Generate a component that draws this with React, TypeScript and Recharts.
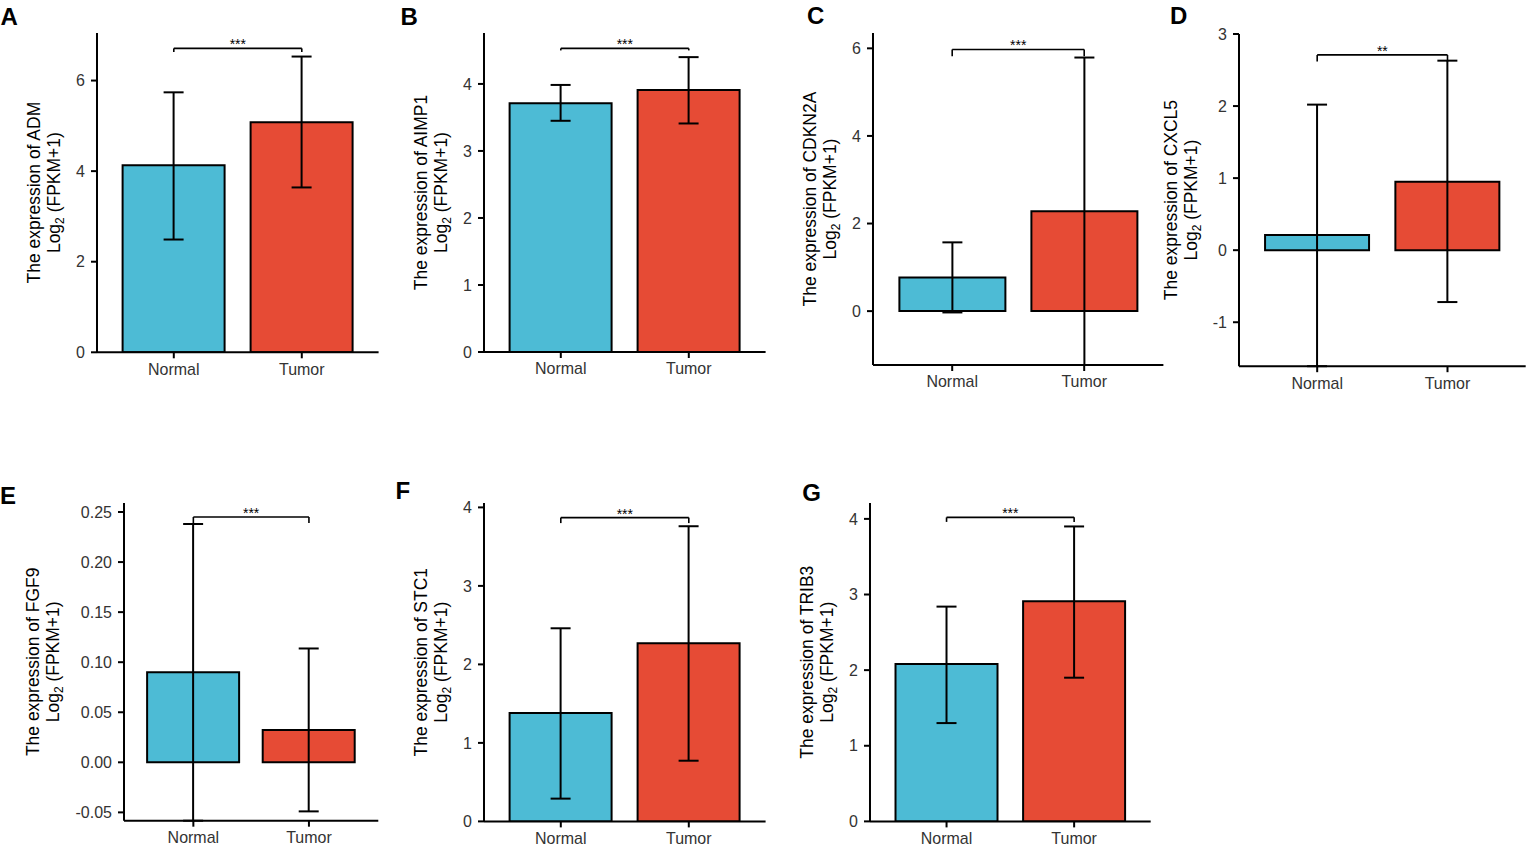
import React from "react";
import { Bar, BarChart, Cell, ErrorBar, ReferenceLine, XAxis, YAxis } from "recharts";

const FONT = '"Liberation Sans", Arial, Helvetica, sans-serif';
const FILLS = ["#4DBBD5", "#E64B35"];

// values (Log2(FPKM+1))
const groups = ["Normal", "Tumor"];
const genes = ["ADM", "AIMP1", "CDKN2A", "CXCL5", "FGF9", "STC1", "TRIB3"];
const meanNormal = [4.13, 3.71, 0.77, 0.21, 0.09, 1.38, 2.08];
const meanTumor = [5.08, 3.91, 2.28, 0.95, 0.0324, 2.27, 2.91];
const lowNormal = [2.49, 3.45, -0.03, -1.61, -0.0583, 0.29, 1.3];
const highNormal = [5.74, 3.985, 1.57, 2.02, 0.238, 2.46, 2.84];
const lowTumor = [3.64, 3.41, -1.23, -0.72, -0.049, 0.773, 1.9];
const highTumor = [6.53, 4.4, 5.79, 2.63, 0.1137, 3.76, 3.9];
const bracketTop = [6.71, 4.53, 5.975, 2.71, 0.245, 3.87, 4.02];
const bracketEnd = [6.63, 4.5, 5.82, 2.62, 0.239, 3.8, 3.96];
const signif = ["***", "***", "***", "**", "***", "***", "***"];
const yDomains = [
  [0, 7.05],
  [0, 4.76],
  [-1.23, 6.35],
  [-1.61, 3],
  [-0.0583, 0.259],
  [0, 4.056],
  [0, 4.21],
];
const yTicks = [
  [0, 2, 4, 6],
  [0, 1, 2, 3, 4],
  [0, 2, 4, 6],
  [-1, 0, 1, 2, 3],
  [-0.05, 0, 0.05, 0.1, 0.15, 0.2, 0.25],
  [0, 1, 2, 3, 4],
  [0, 1, 2, 3, 4],
];
const tickDecimals = [0, 0, 0, 0, 2, 0, 0];

// plot rectangles on the page
const layout = [
  { letter: "A", lx: 0.5, ly: 4.5, left: 96.7, top: 33, width: 281.6, bottom: 352.3, shift: 0 },
  { letter: "B", lx: 400.5, ly: 4.5, left: 483.7, top: 33.3, width: 281.6, bottom: 352.3, shift: 0 },
  { letter: "C", lx: 807, ly: 4, left: 873.3, top: 33, width: 290.4, bottom: 365, shift: 0 },
  { letter: "D", lx: 1170, ly: 4, left: 1239.3, top: 33.5, width: 286.7, bottom: 365.7, shift: -5 },
  { letter: "E", lx: 0, ly: 483.5, left: 124.3, top: 503.3, width: 254.3, bottom: 821, shift: -28 },
  { letter: "F", lx: 395.5, ly: 479, left: 483.7, top: 503.3, width: 281.6, bottom: 821.7, shift: 0 },
  { letter: "G", lx: 802.3, ly: 480.5, left: 870.3, top: 503.3, width: 280.7, bottom: 821.7, shift: 0 },
];

function buildRows(i: number) {
  return groups.map((g, j) => {
    const mean = j === 0 ? meanNormal[i] : meanTumor[i];
    const low = j === 0 ? lowNormal[i] : lowTumor[i];
    const high = j === 0 ? highNormal[i] : highTumor[i];
    return { group: g, mean, err: [mean - low, high - mean] };
  });
}

function YTitle(props: any) {
  const { viewBox, gene, shift } = props;
  const edge = viewBox.x + viewBox.width;
  const cy = viewBox.y + viewBox.height / 2;
  const x1 = edge - 57 + shift;
  const x2 = edge - 37 + shift;
  return (
    <g fontFamily={FONT} fontSize={17.5} fill="#000">
      <text transform={`translate(${x1},${cy}) rotate(-90)`} textAnchor="middle">
        The expression of {gene}
      </text>
      <text transform={`translate(${x2},${cy}) rotate(-90)`} textAnchor="middle">
        Log
        <tspan dy={4} fontSize={12}>
          2
        </tspan>
        <tspan dy={-4}> (FPKM+1)</tspan>
      </text>
    </g>
  );
}

const axisStroke = { stroke: "#000", strokeWidth: 2 };
const tickStyle = { fill: "#333", fontSize: 16, fontFamily: FONT };

function Panel({ i }: { i: number }) {
  const box = layout[i];
  const padTop = 25;
  const axisW = 110;
  const xAxisH = 45;
  const padRight = 1;
  const band = box.width / 2.2;
  const rows = buildRows(i);
  return (
    <div style={{ position: "absolute", left: box.left - axisW, top: box.top - padTop }}>
      <BarChart
        width={box.width + axisW + padRight}
        height={box.bottom - box.top + padTop + xAxisH}
        data={rows}
        margin={{ top: padTop, right: padRight, left: 0, bottom: 0 }}
        barCategoryGap="10%"
      >
        <XAxis
          dataKey="group"
          height={xAxisH}
          padding={{ left: band * 0.1, right: band * 0.1 }}
          axisLine={axisStroke}
          tickLine={axisStroke}
          tickSize={6}
          tickMargin={5}
          tick={tickStyle}
        />
        <YAxis
          type="number"
          width={axisW}
          domain={yDomains[i]}
          ticks={yTicks[i]}
          allowDataOverflow
          interval={0}
          axisLine={axisStroke}
          tickLine={axisStroke}
          tickSize={6}
          tickMargin={6}
          tick={tickStyle}
          tickFormatter={(v: number) => v.toFixed(tickDecimals[i])}
          label={(p: any) => <YTitle {...p} gene={genes[i]} shift={box.shift} />}
        />
        <Bar dataKey="mean" isAnimationActive={false} stroke="#000" strokeWidth={2}>
          {rows.map((r, j) => (
            <Cell key={r.group} fill={FILLS[j]} />
          ))}
          <ErrorBar
            dataKey="err"
            direction="y"
            width={10}
            stroke="#000"
            strokeWidth={2}
            isAnimationActive={false}
          />
        </Bar>
        <ReferenceLine
          segment={[
            { x: groups[0], y: bracketTop[i] },
            { x: groups[1], y: bracketTop[i] },
          ]}
          stroke="#000"
          strokeWidth={1.6}
          label={{ value: signif[i], position: "top", offset: -1, fontSize: 14, fill: "#000", fontFamily: FONT }}
        />
        <ReferenceLine
          segment={[
            { x: groups[0], y: bracketTop[i] },
            { x: groups[0], y: bracketEnd[i] },
          ]}
          stroke="#000"
          strokeWidth={1.6}
        />
        <ReferenceLine
          segment={[
            { x: groups[1], y: bracketTop[i] },
            { x: groups[1], y: bracketEnd[i] },
          ]}
          stroke="#000"
          strokeWidth={1.6}
        />
      </BarChart>
    </div>
  );
}

export default function App() {
  return (
    <div
      style={{
        position: "absolute",
        left: 0,
        top: 0,
        width: 1527,
        height: 846,
        overflow: "hidden",
        background: "#fff",
        fontFamily: FONT,
      }}
    >
      {layout.map((box, i) => (
        <React.Fragment key={box.letter}>
          <div
            style={{
              position: "absolute",
              left: box.lx,
              top: box.ly,
              fontSize: 24,
              lineHeight: "24px",
              fontWeight: 700,
              color: "#000",
            }}
          >
            {box.letter}
          </div>
          <Panel i={i} />
        </React.Fragment>
      ))}
    </div>
  );
}
